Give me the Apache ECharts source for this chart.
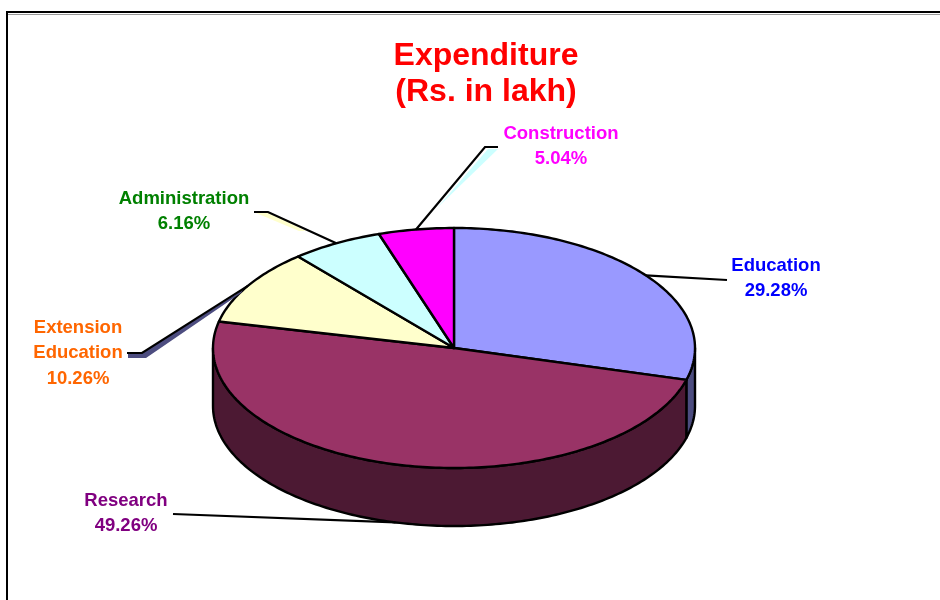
<!DOCTYPE html>
<html>
<head>
<meta charset="utf-8">
<script src="https://cdn.jsdelivr.net/npm/echarts@6/dist/echarts.min.js"></script>
<style>html,body{margin:0;padding:0;background:#fff}#c{width:940px;height:600px}</style>
</head>
<body>
<div id="c"></div>
<script>
// ---- data ----
const categories = ['Education', 'Research', 'Extension Education', 'Administration', 'Construction'];
const shares = [29.28, 49.26, 10.26, 6.16, 5.04];
const titleLines = ['Expenditure', '(Rs. in lakh)'];

// ---- styles ----
const topColors = ['#9999FF', '#993366', '#FFFFCC', '#CCFFFF', '#FF00FF'];
const wallColors = ['#4C4C7F', '#4C1933', '#80806A', '#6A8080', '#800080'];
const labelColors = ['#0000FF', '#800080', '#FF6600', '#008000', '#FF00FF'];
const FONT = '"Liberation Sans", Arial, sans-serif';

// ---- layout ----
const CX = 454, CY = 348, RX = 241, RY = 120, DEPTH = 58;
// label block (center x, top y) and leader elbow points
const labelPos = [[776, 253], [126, 488], [78, 315], [184, 186], [561, 121]];
const leaderPts = [
  [[727, 280]],
  [[173, 514]],
  [[127, 353], [142, 353]],
  [[254, 212], [268, 212]],
  [[498, 147], [485, 147]]
];
const anchorOnBottom = [false, true, false, false, false];
const ribbons = [
  null,
  null,
  { fill: '#4D4D80', pts: [[142, 353], [243, 290], [241, 293], [146, 358], [128, 358], [128, 354]] },
  { fill: '#FFFFCC', pts: [[256, 213], [269, 213], [306, 231], [299, 231]] },
  { fill: '#CCFFFF', pts: [[488, 149], [498, 149], [437, 208]] }
];

const total = shares.reduce((a, b) => a + b, 0);
function pt(deg, dy) {
  const r = deg * Math.PI / 180;
  return [CX + RX * Math.cos(r), CY + RY * Math.sin(r) + (dy || 0)];
}

const chart = echarts.init(document.getElementById('c'), null, { renderer: 'canvas' });
chart.setOption({
  backgroundColor: '#fff',
  animation: false,
  title: {
    text: titleLines.join('\n'),
    left: 481,
    top: 33,
    textAlign: 'center',
    textStyle: { color: '#FF0000', fontFamily: FONT, fontWeight: 'bold', fontSize: 32, lineHeight: 36 }
  },
  graphic: [
    { type: 'rect', shape: { x: 7, y: 12, width: 980, height: 640 }, style: { fill: null, stroke: '#000', lineWidth: 2 }, z: 0 },
    { type: 'line', shape: { x1: 8, y1: 14.5, x2: 940, y2: 14.5 }, style: { stroke: '#999', lineWidth: 1 }, z: 0 }
  ],
  series: [{
    type: 'custom',
    coordinateSystem: 'none',
    data: shares.map((v, i) => ({ value: [v], name: categories[i] })),
    renderItem: function (params, api) {
      const i = params.dataIndex;
      const v = api.value(0);
      let before = 0;
      for (let k = 0; k < i; k++) before += shares[k];
      const a0 = -90 + before / total * 360;
      const a1 = a0 + v / total * 360;
      const children = [];
      // side wall (front half only)
      const w0 = Math.max(a0, 0), w1 = Math.min(a1, 180);
      if (w1 > w0) {
        const pts = [];
        for (let d = w0; d < w1; d += 1) pts.push(pt(d));
        pts.push(pt(w1));
        for (let d = w1; d > w0; d -= 1) pts.push(pt(d, DEPTH));
        pts.push(pt(w0, DEPTH));
        children.push({ type: 'polygon', shape: { points: pts }, style: { fill: wallColors[i], stroke: '#000', lineWidth: 2.4, lineJoin: 'round' } });
      }
      // top face
      const tp = [[CX, CY]];
      for (let d = a0; d < a1; d += 1) tp.push(pt(d));
      tp.push(pt(a1));
      children.push({ type: 'polygon', shape: { points: tp }, style: { fill: topColors[i], stroke: '#000', lineWidth: 2.4, lineJoin: 'round' } });
      // leader
      const mid = (a0 + a1) / 2;
      const anchor = pt(mid, anchorOnBottom[i] ? DEPTH : 0);
      if (ribbons[i]) {
        children.push({ type: 'polygon', shape: { points: ribbons[i].pts }, style: { fill: ribbons[i].fill, stroke: null } });
      }
      children.push({ type: 'polyline', shape: { points: leaderPts[i].concat([anchor]) }, style: { stroke: '#000', lineWidth: 2.2, fill: null } });
      // label
      const txt = categories[i].replace(' ', '\n') + '\n' + v.toFixed(2) + '%';
      children.push({
        type: 'text',
        x: labelPos[i][0], y: labelPos[i][1],
        style: { text: txt, fill: labelColors[i], font: 'bold 18.5px ' + FONT, lineHeight: 25.5, align: 'center', verticalAlign: 'top' }
      });
      return { type: 'group', children: children };
    }
  }]
});
</script>
</body>
</html>
